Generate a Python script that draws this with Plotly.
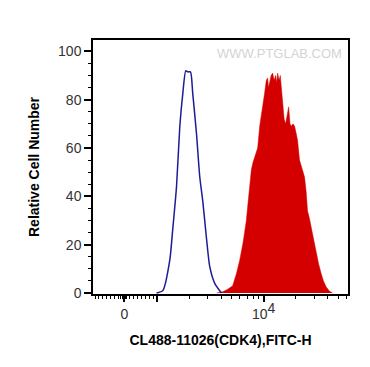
import plotly.graph_objects as go

# x values are in display units (decades of the logicle-like FITC-H axis)
control_x = [2.997, 3.056, 3.121, 3.150, 3.184, 3.215, 3.243, 3.271, 3.290, 3.315,
             3.336, 3.371, 3.402, 3.430, 3.464, 3.495, 3.542, 3.605]
control_y = [0, 1, 13.6, 27, 44, 69, 82.6, 92, 91.5, 91.5,
             82.6, 66, 48, 38, 23, 11, 4, 0]

sample_x = [3.560, 3.617, 3.660, 3.710, 3.745, 3.776, 3.808, 3.838, 3.860, 3.885, 3.900, 3.916,
            3.944, 3.963, 3.978, 3.991, 4.010, 4.025, 4.037, 4.046, 4.056, 4.070, 4.084, 4.098,
            4.112, 4.122, 4.131, 4.145, 4.156, 4.168, 4.178, 4.192, 4.206, 4.220, 4.234, 4.247,
            4.259, 4.275, 4.290, 4.305, 4.318, 4.336, 4.360, 4.383, 4.398, 4.411, 4.428, 4.446,
            4.470, 4.493, 4.515, 4.539, 4.560, 4.586, 4.615, 4.645]
sample_y = [0, 0.5, 1.5, 3, 8, 13.6, 21, 30, 40, 51, 54, 56,
            60, 69, 73, 77, 83, 88, 89, 85, 87, 90, 91, 88,
            90, 87, 91, 88, 90, 84, 78, 72, 70, 74, 77, 70,
            69, 70, 69, 66, 63, 55, 51, 48, 42, 34, 31, 27,
            21, 16.5, 12, 8, 5, 2.5, 0.8, 0]

x_tick_vals = [2.696, 3.0, 4.0]
x_tick_text = ["0", "", "10<sup><span style='font-size:14px'>4</span></sup>"]
x_minor_ticks = [2.421, 2.458, 2.495, 2.533, 2.570, 2.607, 2.640, 2.664, 2.678, 2.692,
                 2.706, 2.720, 2.748, 2.785, 2.822, 2.860, 2.897, 2.935, 2.972,
                 3.301, 3.477, 3.602, 3.699, 3.778, 3.845, 3.903, 3.954,
                 4.301, 4.477, 4.602, 4.699, 4.778]
y_tick_vals = [0, 20, 40, 60, 80, 100]

fig = go.Figure()
fig.add_trace(go.Scatter(x=sample_x, y=sample_y, mode="lines", fill="tozeroy",
                         line=dict(color="#d40000", width=0.5), fillcolor="#d40000",
                         hoverinfo="skip", showlegend=False))
fig.add_trace(go.Scatter(x=control_x, y=control_y, mode="lines",
                         line=dict(color="#1c1c94", width=1.5, shape="spline", smoothing=0.6),
                         hoverinfo="skip", showlegend=False))

font_family = "Liberation Sans, Arial, sans-serif"
fig.update_layout(
    width=370, height=367,
    margin=dict(l=85, r=29.5, t=31.5, b=81),
    paper_bgcolor="white", plot_bgcolor="white",
    font=dict(family=font_family, size=13, color="#222222"),
    xaxis=dict(range=[2.402, 4.790], showgrid=False, zeroline=False, automargin=False,
               showline=True, linecolor="black", linewidth=1.5, mirror=True,
               tickmode="array", tickvals=x_tick_vals, ticktext=x_tick_text,
               ticks="outside", ticklen=6, tickwidth=1.5, tickcolor="black",
               tickfont=dict(size=14, color="#333333"),
               minor=dict(tickmode="array", tickvals=x_minor_ticks, ticks="outside",
                          ticklen=3, tickwidth=1, tickcolor="black", showgrid=False),
               title=dict(text="<b>CL488-11026(CDK4),FITC-H</b>", standoff=15,
                          font=dict(size=14, color="black"))),
    yaxis=dict(range=[-0.4, 104.7], showgrid=False, zeroline=False, automargin=False,
               showline=True, linecolor="black", linewidth=1.5, mirror=True,
               tickmode="array", tickvals=y_tick_vals,
               ticks="outside", ticklen=7, tickwidth=2, tickcolor="black",
               tickfont=dict(size=14, color="#333333"),
               minor=dict(dtick=5, tick0=0, ticks="outside", ticklen=3, tickwidth=1,
                          tickcolor="black", showgrid=False),
               title=dict(text="<b>Relative Cell Number</b>", standoff=15,
                          font=dict(size=14, color="black"))),
    annotations=[dict(text="WWW.PTGLAB.COM", x=0.985, y=0.985, xref="paper", yref="paper",
                      xanchor="right", yanchor="top", showarrow=False,
                      font=dict(size=13, color="#d4d4d4", family=font_family))],
)

fig.write_html("out.html")
